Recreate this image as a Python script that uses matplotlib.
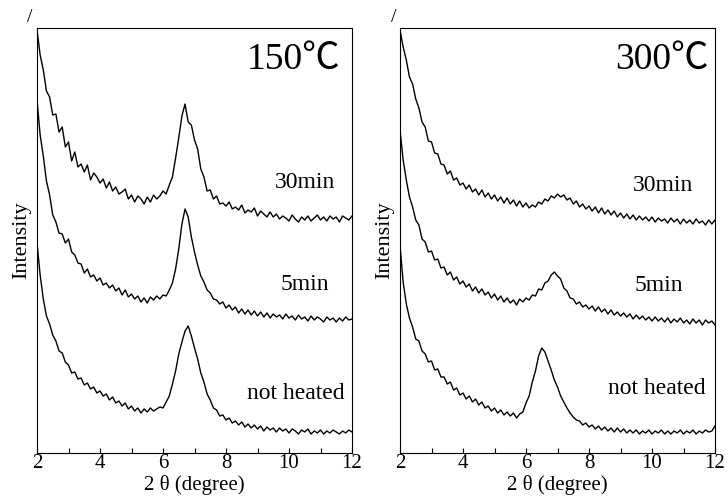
import matplotlib.pyplot as plt
import numpy as np
from matplotlib.ticker import MultipleLocator

# 2 theta grid, 0.1 degree step (2.0 ... 12.0)
two_theta = np.round(np.arange(2.0, 12.05, 0.1), 1)

# intensities (arbitrary units, 0 = bottom of the axes)
left_30min = [
    423, 398, 383, 362, 356, 338, 339, 321, 326, 306,
    311, 292, 301, 286, 289, 281, 288, 273, 280, 276,
    270, 274, 265, 271, 262, 266, 259, 261, 264, 254,
    258, 251, 257, 254, 249, 256, 251, 258, 254, 257,
    262, 259, 268, 276, 295, 315, 337, 349, 331, 328,
    313, 304, 284, 276, 262, 263, 254, 257, 249, 250,
    247, 251, 244, 246, 243, 248, 240, 243, 241, 245,
    237, 242, 239, 236, 241, 236, 239, 234, 237, 235,
    232, 238, 234, 231, 236, 233, 237, 232, 235, 238,
    233, 236, 232, 237, 234, 236, 231, 237, 235, 233,
    237]
left_5min = [
    353, 318, 297, 272, 258, 238, 231, 220, 219, 210,
    214, 201, 198, 190, 189, 180, 184, 176, 178, 172,
    175, 168, 170, 165, 168, 162, 165, 158, 163, 156,
    159, 154, 157, 151, 155, 150, 156, 153, 157, 154,
    158, 157, 163, 170, 184, 204, 229, 244, 236, 216,
    201, 188, 177, 171, 163, 160, 154, 153, 149, 151,
    145, 148, 143, 146, 140, 144, 139, 143, 138, 142,
    137, 141, 136, 140, 135, 139, 136, 138, 134, 139,
    135, 137, 133, 138, 134, 136, 132, 137, 133, 136,
    134, 131, 136, 133, 135, 131, 135, 132, 136, 133,
    134]
left_not_heated = [
    210, 178, 154, 137, 129, 118, 112, 102, 100, 91,
    88, 80, 81, 74, 75, 68, 70, 64, 66, 60,
    62, 57, 59, 53, 56, 50, 52, 47, 50, 44,
    47, 42, 45, 40, 44, 41, 45, 42, 44, 46,
    45, 51, 57, 69, 82, 99, 111, 122, 127, 117,
    105, 94, 80, 71, 59, 53, 45, 43, 37, 38,
    33, 35, 30, 32, 28, 31, 26, 29, 25, 28,
    24, 27, 22, 26, 23, 25, 21, 25, 22, 24,
    20, 24, 22, 19, 23, 21, 24, 19, 22, 20,
    23, 19, 22, 20, 23, 21, 19, 22, 20, 23,
    21]

right_30min = [
    423, 406, 393, 376, 369, 354, 345, 331, 326, 312,
    311, 300, 299, 289, 288, 279, 282, 273, 275, 268,
    270, 264, 268, 261, 264, 258, 263, 256, 260, 254,
    258, 252, 256, 250, 255, 249, 253, 247, 252, 246,
    250, 245, 248, 246, 251, 249, 254, 252, 257, 255,
    259, 256, 258, 253, 255, 249, 252, 246, 249, 244,
    247, 242, 246, 240, 245, 239, 243, 238, 242, 236,
    240, 235, 239, 234, 238, 233, 237, 233, 236, 232,
    236, 231, 235, 232, 234, 230, 235, 231, 234, 229,
    234, 230, 233, 229, 234, 230, 232, 228, 233, 229,
    233]
right_5min = [
    323, 293, 273, 256, 246, 233, 228, 214, 211, 201,
    202, 193, 194, 185, 186, 178, 181, 173, 176, 169,
    172, 166, 169, 162, 166, 160, 164, 158, 161, 155,
    159, 153, 157, 151, 155, 150, 153, 148, 154, 151,
    155, 153, 158, 157, 164, 163, 170, 172, 178, 181,
    177, 174, 165, 162, 155, 154, 149, 151, 146, 148,
    144, 147, 142, 146, 141, 144, 139, 143, 138, 141,
    137, 140, 136, 139, 134, 138, 134, 137, 133, 136,
    132, 136, 132, 135, 131, 135, 130, 134, 131, 135,
    130, 133, 129, 134, 130, 133, 128, 133, 130, 132,
    128]
right_not_heated = [
    208, 171, 149, 135, 126, 114, 112, 102, 99, 91,
    92, 83, 84, 76, 76, 69, 71, 63, 65, 58,
    60, 54, 57, 51, 54, 48, 51, 45, 47, 42,
    45, 40, 43, 38, 41, 37, 40, 35, 39, 41,
    50, 57, 71, 82, 97, 105, 101, 92, 83, 73,
    66, 57, 51, 45, 40, 36, 33, 32, 28, 30,
    26, 28, 24, 27, 23, 26, 22, 25, 21, 25,
    21, 24, 20, 23, 20, 23, 19, 22, 20, 23,
    19, 22, 20, 23, 19, 22, 19, 22, 20, 23,
    19, 22, 20, 23, 19, 22, 20, 23, 21, 22,
    27]

curve_labels = ['30min', '5min', 'not heated']
panel_titles = ['150\u2103', '300\u2103']

serif = ['Liberation Serif', 'DejaVu Serif']
plt.rcParams['font.family'] = serif
title_family = ['Liberation Serif', 'Noto Sans CJK JP']

fig = plt.figure(figsize=(7.28, 4.98), dpi=100)
ax_left = fig.add_axes([37 / 728, 45 / 498, 315 / 728, 425 / 498])
ax_right = fig.add_axes([400 / 728, 45 / 498, 315 / 728, 425 / 498])

panels = [
    (ax_left, [left_30min, left_5min, left_not_heated],
     [(10.51, 271), (10.51, 169), (10.22, 60)], (10.14, 393)),
    (ax_right, [right_30min, right_5min, right_not_heated],
     [(10.35, 268), (10.22, 168), (10.16, 65)], (10.3, 393)),
]

for (ax, curves, label_pos, title_pos), title in zip(panels, panel_titles):
    for values in curves:
        ax.plot(two_theta, values, color='black', linewidth=1.0)
    for text, (tx, ty) in zip(curve_labels, label_pos):
        ax.text(tx, ty, text, ha='center', va='center', fontsize=17)
    ax.text(title_pos[0], title_pos[1], title, ha='center', va='center',
            fontsize=27, family=title_family)

    ax.set_xlim(2, 12)
    ax.set_ylim(0, 425)
    ax.xaxis.set_major_locator(MultipleLocator(2))
    ax.xaxis.set_minor_locator(MultipleLocator(1))
    ax.tick_params(axis='x', which='both', direction='in', length=3.5, width=0.8,
                   labelsize=15, pad=1, top=False)
    ax.tick_params(axis='y', left=False, labelleft=False)
    for spine in ax.spines.values():
        spine.set_linewidth(0.8)
    ax.set_xlabel('2 \u03b8 (degree)', fontsize=15, labelpad=1)
    ax.set_ylabel('Intensity', fontsize=16, labelpad=4)

fig.text(30 / 728, 1 - 17 / 498, '/', fontsize=14, ha='center', va='center')
fig.text(394 / 728, 1 - 17 / 498, '/', fontsize=14, ha='center', va='center')

fig.savefig('out.png', dpi=100)
